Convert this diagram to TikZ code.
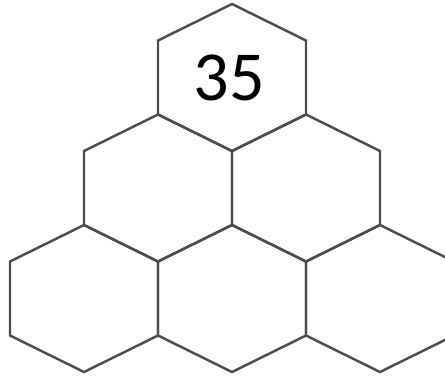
\documentclass[tikz,border=0pt]{standalone}
\usepackage{fontspec}
\setmainfont{Carlito}
\usepackage{tikz}
\definecolor{edge}{HTML}{4D4D4D}
\tikzset{
  cellline/.style={draw=edge,line width=1.4pt,line join=round},
  cell/.pic={\path[cellline] (0,-73.5) -- (74,-37) -- (74,37) -- (0,73.5) -- (-74,37) -- (-74,-37) -- cycle;},
  num/.style={font=\fontsize{40}{48}\selectfont,text=black,inner sep=0pt},
}
\begin{document}
\begin{tikzpicture}[x=0.02cm,y=-0.02cm]
  \useasboundingbox (0,0) rectangle (445,376);
  \clip (0,0) rectangle (445,376);
  \foreach \cx/\cy/\nm in {232/77.5/top,158/188/midl,306/188/midr,84/298.5/botl,232/298.5/botm,380/298.5/botr}{
    \pic (\nm) at (\cx,\cy) {cell};
    \coordinate (\nm c) at (\cx,\cy);
  }
  \node[num] (topnum) at ([xshift=-1.5]topc) {35};
\end{tikzpicture}
\end{document}
